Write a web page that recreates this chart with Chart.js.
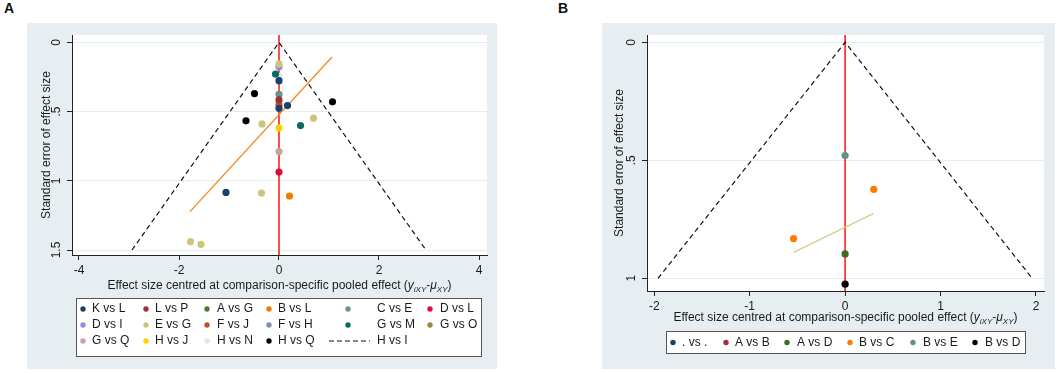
<!DOCTYPE html>
<html>
<head>
<meta charset="utf-8">
<script src="https://cdn.jsdelivr.net/npm/chart.js@4.4.0/dist/chart.umd.min.js"></script>
<style>
  body { margin: 0; background: #fff; width: 1059px; height: 374px; position: relative; overflow: hidden;
         font-family: "Liberation Sans", Arial, sans-serif; }
  .panel { position: absolute; top: 23px; height: 346px; background: #e7eef1; }
  #panelA { left: 27px; width: 470px; }
  #panelB { left: 602px; width: 453px; }
  .tag { position: absolute; top: 0px; font-weight: bold; font-size: 14px; color: #111; }
</style>
</head>
<body>
<div class="tag" style="left:4px">A</div>
<div class="tag" style="left:558px">B</div>
<div class="panel" id="panelA"><canvas id="chartA" width="470" height="346"></canvas></div>
<div class="panel" id="panelB"><canvas id="chartB" width="453" height="346"></canvas></div>
<script>
// Comparison-adjusted funnel plots (two networks)

// ---- Panel A data ----
const xTicksA = [-4, -2, 0, 2, 4];
const yTicksA = [0, 0.5, 1, 1.5];
const yTickLabelsA = ["0", ".5", "1", "1.5"];
const namesA = ["K vs L", "L vs P", "A vs G", "B vs L", "C vs E", "D vs L",
                "D vs I", "E vs G", "F vs J", "F vs H", "G vs M", "G vs O",
                "G vs Q", "H vs J", "H vs N", "H vs Q"];
const colorsA = ["#15426b", "#9a3038", "#4f7a2a", "#f27c00", "#6a9289", "#e4093c",
                 "#958ddb", "#cfc47e", "#bd5428", "#7b92a8", "#0b6a5e", "#9c8847",
                 "#c9a29e", "#ffd400", "#d9e8ee", "#000000"];
// effect size centred (x) and standard error (y), one list per comparison
const effectA = [
  [0, 0, 0.17, -1.06], [0], [], [0.21], [0], [0],
  [0], [0, -0.34, 0.69, -0.35, -1.77, -1.56], [0], [], [-0.07, 0.43], [],
  [0], [0], [0], [-0.49, 1.07, -0.66]
];
const seA = [
  [0.277, 0.476, 0.457, 1.084], [0.416], [], [1.11], [0.375], [0.937],
  [0.176], [0.156, 0.589, 0.548, 1.089, 1.44, 1.459], [0.452], [], [0.229, 0.601], [],
  [0.789], [0.618], [0.243], [0.37, 0.43, 0.567]
];
const funnelLabelA = "H vs I";
const funnelXA = [-2.94, 0, 2.94];
const funnelSeA = [1.5, 0, 1.5];
const regXA = [-1.78, 1.06];
const regSeA = [1.223, 0.106];

// ---- Panel B data ----
const xTicksB = [-2, -1, 0, 1, 2];
const yTicksB = [0, 0.5, 1];
const yTickLabelsB = ["0", ".5", "1"];
const namesB = [". vs .", "A vs B", "A vs D", "B vs C", "B vs E", "B vs D"];
const colorsB = ["#15426b", "#9a3038", "#3a6d20", "#ff7b00", "#5f918b", "#000000"];
const effectB = [[], [], [0], [0.30, -0.54], [0], [0]];
const seB = [[], [], [0.897], [0.623, 0.832], [0.48], [1.025]];
const funnelXB = [-1.96, 0, 1.96];
const funnelSeB = [1, 0, 1];
const regXB = [-0.54, 0.30];
const regSeB = [0.89, 0.725];

const FONT = '"Liberation Sans", Arial, sans-serif';
const TXT = "#1a1a1a";
const xTitle = "Effect size centred at comparison-specific pooled effect (";

function pts(xs, ys) {
  return xs.map((x, i) => ({ x: x, y: ys[i] }));
}

// draws axis labels, x title with subscripts, and the boxed legend
function extrasPlugin(o) {
  return {
    id: "extras",
    beforeDraw(chart) {
      const a = chart.chartArea, ctx = chart.ctx;
      ctx.save();
      ctx.fillStyle = "#fff";
      ctx.fillRect(a.left, a.top, a.right - a.left, a.bottom - a.top);
      ctx.restore();
    },
    afterDraw(chart) {
      const a = chart.chartArea, ctx = chart.ctx, ys = chart.scales.y;
      ctx.save();
      ctx.fillStyle = TXT;
      ctx.font = "12px " + FONT;
      ctx.textAlign = "center";
      ctx.textBaseline = "middle";
      // y tick labels, rotated
      o.yTicks.forEach((v, i) => {
        ctx.save();
        ctx.translate(o.yLabelX, ys.getPixelForValue(v));
        ctx.rotate(-Math.PI / 2);
        ctx.fillText(o.yLabels[i], 0, 0);
        ctx.restore();
      });
      // y title
      ctx.save();
      ctx.translate(o.yTitleX, (a.top + a.bottom) / 2);
      ctx.rotate(-Math.PI / 2);
      ctx.fillText("Standard error of effect size", 0, 0);
      ctx.restore();

      // x title: plain text + italic y_iXY - mu_XY
      const parts = [
        { t: xTitle, f: "12px " + FONT, dy: 0 },
        { t: "y", f: "italic 12px " + FONT, dy: 0 },
        { t: "iXY", f: "italic 8px " + FONT, dy: 3 },
        { t: "-", f: "12px " + FONT, dy: 0 },
        { t: "\u03bc", f: "italic 12px " + FONT, dy: 0 },
        { t: "XY", f: "italic 8px " + FONT, dy: 3 },
        { t: ")", f: "12px " + FONT, dy: 0 }
      ];
      let total = 0;
      parts.forEach(p => { ctx.font = p.f; p.w = ctx.measureText(p.t).width; total += p.w; });
      let x = (a.left + a.right) / 2 - total / 2;
      const ty = a.bottom + o.xTitleDy;
      ctx.textAlign = "left";
      ctx.textBaseline = "alphabetic";
      parts.forEach(p => { ctx.font = p.f; ctx.fillText(p.t, x, ty + 4 + p.dy); x += p.w; });

      // legend box
      const L = o.legend;
      ctx.fillStyle = "#fff";
      ctx.fillRect(L.box[0], L.box[1], L.box[2] - L.box[0], L.box[3] - L.box[1]);
      ctx.strokeStyle = "#555";
      ctx.lineWidth = 1;
      ctx.strokeRect(L.box[0] + 0.5, L.box[1] + 0.5, L.box[2] - L.box[0], L.box[3] - L.box[1]);
      ctx.font = "12px " + FONT;
      ctx.textBaseline = "middle";
      o.names.forEach((n, i) => {
        const r = Math.floor(i / L.cols), c = i % L.cols;
        const yy = L.rows[r];
        ctx.fillStyle = o.colors[i];
        ctx.beginPath();
        ctx.arc(L.markX[c], yy, 2.7, 0, Math.PI * 2);
        ctx.fill();
        ctx.fillStyle = TXT;
        ctx.fillText(n, L.textX[c], yy);
      });
      if (o.funnelLabel) {
        const i = o.names.length, r = Math.floor(i / L.cols), c = i % L.cols;
        const yy = L.rows[r];
        ctx.strokeStyle = "#111";
        ctx.lineWidth = 1.2;
        ctx.setLineDash([5, 3]);
        ctx.beginPath();
        ctx.moveTo(L.dashX[0], yy);
        ctx.lineTo(L.dashX[1], yy);
        ctx.stroke();
        ctx.setLineDash([]);
        ctx.fillStyle = TXT;
        ctx.fillText(o.funnelLabel, L.textX[c], yy);
      }
      ctx.restore();
    }
  };
}

function funnelChart(id, o) {
  const datasets = o.names.map((n, i) => ({
    label: n,
    data: pts(o.effect[i], o.se[i]),
    backgroundColor: o.colors[i],
    borderWidth: 0,
    pointRadius: 3.6,
    order: n === o.topSeries ? -1 : 0
  }));
  datasets.push({
    label: "fit", data: pts(o.regX, o.regSe), showLine: true,
    borderColor: o.regColor, borderWidth: 1.3, pointRadius: 0, order: 1
  });
  datasets.push({
    label: "funnel", data: pts(o.funnelX, o.funnelSe), showLine: true,
    borderColor: "#111", borderWidth: 1.2, borderDash: [5, 3.5], pointRadius: 0, order: 2
  });
  datasets.push({
    label: "null", data: pts([0, 0], [o.yMin, o.yMax]), showLine: true,
    borderColor: "#ff2020", borderWidth: 1.6, pointRadius: 0, order: 3
  });

  return new Chart(document.getElementById(id), {
    type: "scatter",
    data: { datasets: datasets },
    options: {
      responsive: false,
      animation: false,
      events: [],
      devicePixelRatio: 1,
      layout: { padding: o.padding },
      plugins: { legend: { display: false }, tooltip: { enabled: false } },
      scales: {
        x: {
          type: "linear", min: o.xMin, max: o.xMax,
          afterBuildTicks: s => { s.ticks = o.xTicks.map(v => ({ value: v })); },
          afterFit: s => { s.height = 40; },
          grid: { drawOnChartArea: false, drawTicks: true, tickLength: 5, tickColor: "#222" },
          border: { color: "#222", width: 1 },
          ticks: { color: TXT, font: { family: FONT, size: 12 }, padding: 3, callback: v => String(v) }
        },
        y: {
          type: "linear", reverse: true, min: o.yMin, max: o.yMax,
          afterBuildTicks: s => { s.ticks = o.yTicks.map(v => ({ value: v })); },
          afterFit: s => { s.width = o.yAxisW; },
          grid: { color: "#e3ecef", lineWidth: 1, drawTicks: true, tickLength: 5, tickColor: "#222" },
          border: { color: "#222", width: 1 },
          ticks: { display: false }
        }
      }
    },
    plugins: [extrasPlugin(o)]
  });
}

funnelChart("chartA", {
  names: namesA, colors: colorsA, effect: effectA, se: seA, topSeries: "E vs G",
  funnelX: funnelXA, funnelSe: funnelSeA, funnelLabel: funnelLabelA,
  regX: regXA, regSe: regSeA, regColor: "#f5871f",
  xTicks: xTicksA, yTicks: yTicksA, yLabels: yTickLabelsA,
  xMin: -4.14, xMax: 4.16, yMin: -0.053, yMax: 1.536,
  yAxisW: 45, padding: { left: 0, top: 12, right: 10, bottom: 74 },
  yLabelX: 30, yTitleX: 20, xTitleDy: 29.5,
  legend: {
    box: [49, 275, 454, 333], cols: 6, rows: [286, 302, 318],
    markX: [56, 119, 180, 242, 321, 403], textX: [65, 128, 190, 251, 350, 413],
    dashX: [302, 343]
  }
});

funnelChart("chartB", {
  names: namesB, colors: colorsB, effect: effectB, se: seB, topSeries: null,
  funnelX: funnelXB, funnelSe: funnelSeB, funnelLabel: null,
  regX: regXB, regSe: regSeB, regColor: "#d8cc8c",
  xTicks: xTicksB, yTicks: yTicksB, yLabels: yTickLabelsB,
  xMin: -2.076, xMax: 2.084, yMin: -0.031, yMax: 1.054,
  yAxisW: 45, padding: { left: 0, top: 12, right: 11, bottom: 38 },
  yLabelX: 30, yTitleX: 18, xTitleDy: 26,
  legend: {
    box: [64, 308, 423, 330], cols: 6, rows: [319.5],
    markX: [71, 124, 185, 248, 311, 373], textX: [80, 133, 195, 257, 321, 383],
    dashX: [0, 0]
  }
});
</script>
</body>
</html>
